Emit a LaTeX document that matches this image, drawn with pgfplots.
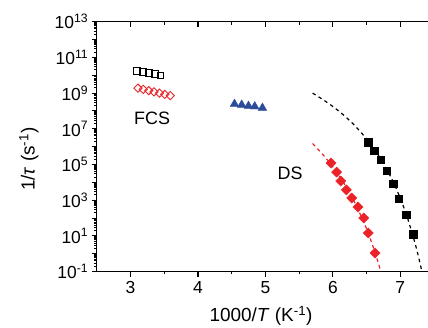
\documentclass[border=0pt]{standalone}
\usepackage{pgfplots}
\pgfplotsset{compat=1.18}
\usepackage{fontspec}
\setmainfont{Liberation Sans}
\definecolor{myred}{RGB}{235,35,40}
\definecolor{myblue}{RGB}{45,75,155}
\pgfplotsset{common/.style={scale only axis, width=331.3bp, height=250bp,
  xmin=2.5, xmax=7.41, ymin=0.1, ymax=1e13, at={(0,0)}, anchor=south west,
  axis line style={line width=1.5bp}, every tick/.style={line width=1.2bp, black}}}
\begin{document}
\begin{tikzpicture}
\useasboundingbox (-96.7bp,-56.3bp) rectangle (331.3bp,271.7bp);
% top axis with inward ticks
\begin{axis}[ymode=log, common, axis x line*=top, axis y line=none,
  xtick={3,4,5,6,7}, minor x tick num=1, xticklabels={}, ytick=\empty,
  tick align=inside, major tick length=5bp, minor tick length=3bp]
\end{axis}
\begin{axis}[ymode=log, common, axis x line*=bottom, axis y line*=left,
  tick align=outside, major tick length=5bp, minor tick length=2.5bp,
  xtick={3,4,5,6,7}, xticklabels={3,4,5,6,7}, minor x tick num=1,
  ytick={1e-1,1,1e1,1e2,1e3,1e4,1e5,1e6,1e7,1e8,1e9,1e10,1e11,1e12,1e13},
  minor ytick={2e-1,3e-1,4e-1,5e-1,6e-1,7e-1,8e-1,9e-1,
   2e0,3e0,4e0,5e0,6e0,7e0,8e0,9e0,
   2e1,3e1,4e1,5e1,6e1,7e1,8e1,9e1,
   2e2,3e2,4e2,5e2,6e2,7e2,8e2,9e2,
   2e3,3e3,4e3,5e3,6e3,7e3,8e3,9e3,
   2e4,3e4,4e4,5e4,6e4,7e4,8e4,9e4,
   2e5,3e5,4e5,5e5,6e5,7e5,8e5,9e5,
   2e6,3e6,4e6,5e6,6e6,7e6,8e6,9e6,
   2e7,3e7,4e7,5e7,6e7,7e7,8e7,9e7,
   2e8,3e8,4e8,5e8,6e8,7e8,8e8,9e8,
   2e9,3e9,4e9,5e9,6e9,7e9,8e9,9e9,
   2e10,3e10,4e10,5e10,6e10,7e10,8e10,9e10,
   2e11,3e11,4e11,5e11,6e11,7e11,8e11,9e11,
   2e12,3e12,4e12,5e12,6e12,7e12,8e12,9e12},
  y tick style={line width=1bp},
  yticklabels={10\textsuperscript{-1},,10\textsuperscript{1},,10\textsuperscript{3},,10\textsuperscript{5},,10\textsuperscript{7},,10\textsuperscript{9},,10\textsuperscript{11},,10\textsuperscript{13}},
  tick label style={font=\fontsize{17.5}{17.5}\selectfont},
  xticklabel style={yshift=-1bp},
  /pgf/number format/assume math mode=true,
  xlabel={1000/\textit{T} (K\textsuperscript{-1})},
  ylabel={1/\textit{τ} (s\textsuperscript{-1})},
  label style={font=\fontsize{19}{19}\selectfont},
  xlabel style={at={(axis description cs:0.496,-0.176)}, anchor=center},
  ylabel style={at={(axis description cs:-0.205,0.45)}, anchor=center},
]
% DS fits (dashed)
\addplot[black, line width=1.2bp, dash pattern=on 3.5bp off 3.5bp, smooth] coordinates {
 (5.7,1.0e9) (5.9,3.3e8) (6.1,9.1e7) (6.3,1.9e7) (6.5,2.75e6) (6.6,8.7e5) (6.7,2.34e5)
 (6.8,5.25e4) (6.9,9.5e3) (7.0,1.29e3) (7.1,120) (7.2,6.9) (7.25,1.35) (7.3,0.22) (7.32,0.098)};
\addplot[myred, line width=1.2bp, dash pattern=on 3.5bp off 3.5bp, smooth] coordinates {
 (5.7,1.51e6) (5.85,3.7e5) (6.0,7.4e4) (6.15,1.1e4) (6.3,1.12e3) (6.45,71) (6.55,7.9)
 (6.65,0.60) (6.70,0.14) (6.715,0.089)};
% DS data
\addplot[only marks, mark=square*, mark size=3.6bp, black] coordinates {
 (6.525,1.78e6) (6.614,6.0e5) (6.709,1.82e5) (6.797,4.6e4) (6.895,8.1e3) (6.979,1.17e3)
 (7.087,151) (7.191,12.6)};
\addplot[only marks, mark=square*, mark size=3.6bp, myred, mark options={fill=myred, draw=myred, rotate=45}] coordinates {
 (5.973,1.23e5) (6.055,3.8e4) (6.117,1.2e4) (6.200,3.8e3) (6.280,1.35e3) (6.373,417)
 (6.457,102) (6.525,14.8) (6.624,1.12)};
% blue triangles
\addplot[only marks, mark=triangle*, mark size=5bp, myblue, mark options={fill=myblue, draw=myblue}] coordinates {
 (4.542,2.45e8) (4.649,2.2e8) (4.749,1.9e8) (4.842,1.78e8) (4.956,1.48e8)};
% FCS data
\addplot[only marks, mark=square, mark size=3.4bp, black, mark options={line width=0.9bp}] coordinates {
 (3.096,1.74e10) (3.183,1.51e10) (3.27,1.35e10) (3.358,1.17e10) (3.444,9.8e9)};
\addplot[only marks, mark=square, mark size=2.9bp, myred, mark options={line width=0.9bp, rotate=45}] coordinates {
 (3.111,1.9e9) (3.19,1.62e9) (3.27,1.38e9) (3.35,1.17e9) (3.43,1.0e9) (3.51,8.5e8) (3.59,7.2e8)};
\node[font=\fontsize{18}{18}\selectfont] at (axis cs:3.32,3.9e7) {FCS};
\node[font=\fontsize{18}{18}\selectfont] at (axis cs:5.367,3.2e4) {DS};
\end{axis}
\end{tikzpicture}
\end{document}
